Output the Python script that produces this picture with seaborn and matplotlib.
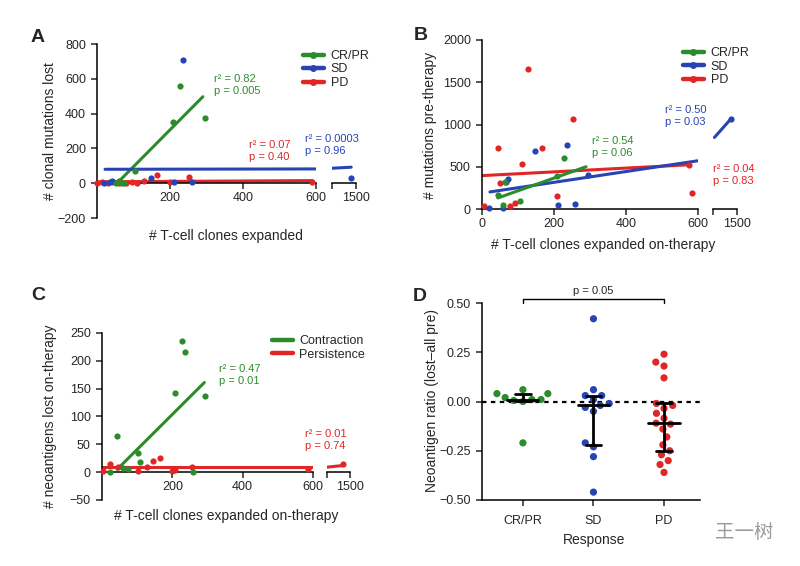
import numpy as np
import pandas as pd
import matplotlib
matplotlib.use('Agg')
import matplotlib.pyplot as plt
import seaborn as sns
from matplotlib.lines import Line2D

sns.set_style('ticks')
plt.rcParams['font.family'] = ['Liberation Sans', 'Noto Sans CJK SC', 'DejaVu Sans']
plt.rcParams['axes.linewidth'] = 1.1
plt.rcParams['xtick.major.width'] = 1.1
plt.rcParams['ytick.major.width'] = 1.1
plt.rcParams['xtick.major.size'] = 4.5
plt.rcParams['ytick.major.size'] = 4.5
plt.rcParams['xtick.labelsize'] = 9
plt.rcParams['ytick.labelsize'] = 9
plt.rcParams['axes.edgecolor'] = 'black'

GREEN = '#2c8c2c'
BLUE = '#2844b4'
RED = '#e02626'

# ---------------- Panel A data ----------------
a_cr_x = [52, 60, 68, 75, 104, 208, 227, 296]
a_cr_y = [2, 11, 4, 0, 69, 349, 560, 377]
a_sd_x = [20, 36, 40, 148, 211, 236, 260]
a_sd_y = [0, 5, 11, 28, 6, 709, 6]
a_sd_x2 = [1400]
a_sd_y2 = [30]
a_pd_x = [0, 15, 30, 45, 60, 80, 95, 110, 130, 164, 200, 252, 590]
a_pd_y = [0, 5, 3, 8, 2, 0, 6, 4, 10, 45, 5, 34, 5]
a_cr_fit_x, a_cr_fit_y = [55, 290], [0, 497]
a_sd_fit_x, a_sd_fit_y = [22, 600], [80, 82]
a_sd_fit_x2, a_sd_fit_y2 = [1000, 1400], [86, 92]
a_pd_fit_x, a_pd_fit_y = [0, 590], [8, 15]

# ---------------- Panel B data ----------------
b_cr_x = [44, 58, 64, 106, 208, 228]
b_cr_y = [167, 48, 320, 95, 390, 607]
b_sd_x = [19, 58, 67, 72, 147, 211, 236, 258, 294]
b_sd_y = [12, 12, 320, 357, 690, 48, 762, 60, 400]
b_sd_x2 = [1370]
b_sd_y2 = [1060]
b_pd_x = [6, 44, 50, 78, 92, 111, 128, 166, 208, 253, 575, 583]
b_pd_y = [36, 726, 310, 36, 71, 536, 1655, 726, 155, 1070, 520, 190]
b_cr_fit_x, b_cr_fit_y = [44, 289], [131, 500]
b_sd_fit_x, b_sd_fit_y = [22, 600], [202, 571]
b_sd_fit_x2, b_sd_fit_y2 = [1030, 1370], [847, 1065]
b_pd_fit_x, b_pd_fit_y = [0, 578], [395, 524]

# ---------------- Panel C data ----------------
c_con_x = [23, 43, 60, 75, 103, 108, 208, 228, 237, 260, 294]
c_con_y = [0, 65, 7, 5, 34, 18, 143, 235, 215, 0, 137]
c_per_x = [2, 23, 46, 103, 128, 146, 166, 200, 209, 257, 585]
c_per_y = [2, 14, 9, 2, 10, 20, 25, 2, 4, 9, 5]
c_per_x2 = [1350]
c_per_y2 = [14]
c_con_fit_x, c_con_fit_y = [43, 291], [5, 161]
c_per_fit_x, c_per_fit_y = [0, 600], [9, 9]
c_per_fit_x2, c_per_fit_y2 = [1000, 1350], [9, 12]

# ---------------- Panel D data ----------------
d_groups = ['CR/PR', 'SD', 'PD']
d_cr = [0.06, 0.04, 0.04, 0.02, 0.01, 0.01, 0.005, 0.0, -0.21]
d_sd = [0.42, 0.06, 0.03, 0.03, 0.01, -0.01, -0.02, -0.03, -0.05, -0.21, -0.23, -0.28, -0.46]
d_pd = [0.24, 0.20, 0.18, 0.12, -0.01, -0.02, -0.035, -0.06, -0.085, -0.115,
        -0.11, -0.14, -0.18, -0.22, -0.25, -0.27, -0.30, -0.32, -0.36]

W, H = 800, 566
fig = plt.figure(figsize=(8, 5.66), dpi=100)


def box(l, t, r, b):
    return [l / W, 1 - b / H, (r - l) / W, (b - t) / H]


def fx(x):
    return x / W


def fy(y):
    return 1 - y / H


def scat(ax, x, y, c):
    sns.scatterplot(x=x, y=y, color=c, s=20, linewidth=0, ax=ax, clip_on=False, zorder=3)


def fit(ax, x, y, c):
    sns.lineplot(x=x, y=y, color=c, lw=2.2, ax=ax, sort=False, estimator=None, zorder=2)


def setup_pair(main_box, seg_box, ylim, yticks, xticks, zero_axis):
    ax = fig.add_axes(box(*main_box))
    ax2 = fig.add_axes(box(*seg_box))
    for a in (ax, ax2):
        a.set_facecolor('none')
        a.spines['top'].set_visible(False)
        a.spines['right'].set_visible(False)
        a.set_ylim(*ylim)
        if zero_axis:
            a.spines['bottom'].set_position(('data', 0))
    ax.set_xlim(0, 600)
    ax.set_xticks(xticks)
    ax.set_yticks(yticks)
    ax2.set_xlim(1000, 1500)
    ax2.set_xticks([1000, 1500])
    ax2.set_xticklabels(['', '1500'])
    ax2.spines['left'].set_visible(False)
    ax2.set_yticks([])
    ax.tick_params(axis='x', pad=2)
    ax2.tick_params(axis='x', pad=2)
    return ax, ax2


def legend_lines(handles_spec, x, y, marker=True):
    handles = [Line2D([0], [0], color=c, lw=3.2, marker='o' if marker else None,
                      markersize=4) for _, c in handles_spec]
    fig.legend(handles, [l for l, _ in handles_spec], loc='upper left',
               bbox_to_anchor=(fx(x), fy(y)), frameon=False, fontsize=9,
               handlelength=1.65, handletextpad=0.55, labelspacing=0.12,
               borderpad=0, borderaxespad=0)


def note(x, y, txt, c):
    fig.text(fx(x), fy(y), txt, color=c, fontsize=8, va='center', linespacing=1.35)


# ================= Panel A =================
axA, axA2 = setup_pair((97, 44, 316, 218), (332, 44, 356, 218), (-200, 800),
                       [-200, 0, 200, 400, 600, 800], [200, 400, 600], True)
fit(axA, a_cr_fit_x, a_cr_fit_y, GREEN)
fit(axA, a_sd_fit_x, a_sd_fit_y, BLUE)
fit(axA, a_pd_fit_x, a_pd_fit_y, RED)
fit(axA2, a_sd_fit_x2, a_sd_fit_y2, BLUE)
scat(axA, a_pd_x, a_pd_y, RED)
scat(axA, a_sd_x, a_sd_y, BLUE)
scat(axA, a_cr_x, a_cr_y, GREEN)
scat(axA2, a_sd_x2, a_sd_y2, BLUE)
for a in (axA, axA2):
    a.set_xlabel(''); a.set_ylabel('')
fig.text(fx(50), fy(131), '# clonal mutations lost', rotation=90, ha='center', va='center', fontsize=10)
fig.text(fx(226), fy(236), '# T-cell clones expanded', ha='center', va='center', fontsize=10)
fig.text(fx(38), fy(37), 'A', ha='center', va='center', fontsize=14, fontweight='bold')
note(214, 85, 'r² = 0.82\np = 0.005', GREEN)
note(249, 151, 'r² = 0.07\np = 0.40', RED)
note(305, 145, 'r² = 0.0003\np = 0.96', BLUE)
legend_lines([('CR/PR', GREEN), ('SD', BLUE), ('PD', RED)], 303, 50)

# ================= Panel B =================
axB, axB2 = setup_pair((482, 40, 698, 209), (713, 40, 737, 209), (0, 2000),
                       [0, 500, 1000, 1500, 2000], [0, 200, 400, 600], False)
fit(axB, b_pd_fit_x, b_pd_fit_y, RED)
fit(axB, b_sd_fit_x, b_sd_fit_y, BLUE)
fit(axB, b_cr_fit_x, b_cr_fit_y, GREEN)
fit(axB2, b_sd_fit_x2, b_sd_fit_y2, BLUE)
scat(axB, b_pd_x, b_pd_y, RED)
scat(axB, b_sd_x, b_sd_y, BLUE)
scat(axB, b_cr_x, b_cr_y, GREEN)
scat(axB2, b_sd_x2, b_sd_y2, BLUE)
for a in (axB, axB2):
    a.set_xlabel(''); a.set_ylabel('')
fig.text(fx(430), fy(125), '# mutations pre-therapy', rotation=90, ha='center', va='center', fontsize=10)
fig.text(fx(603), fy(245), '# T-cell clones expanded on-therapy', ha='center', va='center', fontsize=10)
fig.text(fx(421), fy(35), 'B', ha='center', va='center', fontsize=14, fontweight='bold')
note(592, 147, 'r² = 0.54\np = 0.06', GREEN)
note(665, 116, 'r² = 0.50\np = 0.03', BLUE)
note(713, 175, 'r² = 0.04\np = 0.83', RED)
legend_lines([('CR/PR', GREEN), ('SD', BLUE), ('PD', RED)], 683, 47)

# ================= Panel C =================
axC, axC2 = setup_pair((102, 333, 313, 500), (327, 333, 350, 500), (-50, 250),
                       [-50, 0, 50, 100, 150, 200, 250], [200, 400, 600], True)
fit(axC, c_per_fit_x, c_per_fit_y, RED)
fit(axC, c_con_fit_x, c_con_fit_y, GREEN)
fit(axC2, c_per_fit_x2, c_per_fit_y2, RED)
scat(axC, c_per_x, c_per_y, RED)
scat(axC, c_con_x, c_con_y, GREEN)
scat(axC2, c_per_x2, c_per_y2, RED)
for a in (axC, axC2):
    a.set_xlabel(''); a.set_ylabel('')
fig.text(fx(50), fy(416), '# neoantigens lost on-therapy', rotation=90, ha='center', va='center', fontsize=10)
fig.text(fx(226), fy(516), '# T-cell clones expanded on-therapy', ha='center', va='center', fontsize=10)
fig.text(fx(38), fy(295), 'C', ha='center', va='center', fontsize=14, fontweight='bold')
note(219, 375, 'r² = 0.47\np = 0.01', GREEN)
note(305, 440, 'r² = 0.01\np = 0.74', RED)
legend_lines([('Contraction', GREEN), ('Persistence', RED)], 272, 335, marker=False)

# ================= Panel D =================
axD = fig.add_axes(box(482, 303, 700, 500))
axD.set_facecolor('none')
df = pd.DataFrame({
    'Response': ['CR/PR'] * len(d_cr) + ['SD'] * len(d_sd) + ['PD'] * len(d_pd),
    'ratio': d_cr + d_sd + d_pd,
})
sns.swarmplot(data=df, x='Response', y='ratio', hue='Response', order=d_groups,
              hue_order=d_groups, palette=[GREEN, BLUE, RED], size=6.3,
              linewidth=0, legend=False, ax=axD, zorder=3)
axD.set_xlim(-0.58, 2.51)
axD.set_ylim(-0.5, 0.5)
# swarm laid out with a slightly wider spacing, then frozen and drawn at the real marker size
fig.canvas.draw()
for coll in list(axD.collections):
    offs = np.array(coll.get_offsets())
    if 'draw' in coll.__dict__:
        del coll.__dict__['draw']
    coll.set_offsets(offs)
    coll.set_sizes([5.2 ** 2])
axD.axhline(0, color='black', lw=1.6, ls=(0, (2, 2)), zorder=1)
for i, vals in enumerate([d_cr, d_sd, d_pd]):
    med = np.median(vals)
    q1, q3 = np.percentile(vals, [25, 75], method='weibull')
    axD.plot([i, i], [q1, q3], color='black', lw=2, zorder=4, solid_capstyle='butt')
    axD.plot([i - 0.22, i + 0.22], [med, med], color='black', lw=2, zorder=4)
    axD.plot([i - 0.11, i + 0.11], [q1, q1], color='black', lw=2, zorder=4)
    axD.plot([i - 0.11, i + 0.11], [q3, q3], color='black', lw=2, zorder=4)
axD.set_xlim(-0.58, 2.51)
axD.set_ylim(-0.5, 0.5)
axD.set_yticks([-0.5, -0.25, 0, 0.25, 0.5])
axD.set_yticklabels(['\u22120.50', '\u22120.25', '0.00', '0.25', '0.50'])
axD.spines['top'].set_visible(False)
axD.spines['right'].set_visible(False)
axD.set_xlabel('')
axD.set_ylabel('')
axD.tick_params(axis='x', pad=6)
axD.plot([0, 0, 2, 2], [0.5, 0.52, 0.52, 0.5], color='black', lw=1, clip_on=False)
axD.text(1, 0.535, 'p = 0.05', ha='center', va='bottom', fontsize=8)
fig.text(fx(432), fy(401), 'Neoantigen ratio (lost\u2013all pre)', rotation=90, ha='center', va='center', fontsize=10)
fig.text(fx(594), fy(540), 'Response', ha='center', va='center', fontsize=10)
fig.text(fx(420), fy(296), 'D', ha='center', va='center', fontsize=14, fontweight='bold')

# watermark
fig.text(fx(744), fy(532), '王一树', ha='center', va='center', fontsize=14, color='#9a9a9a',
         family=['Noto Sans CJK SC', 'DejaVu Sans'])

fig.savefig('out.png', dpi=100)
